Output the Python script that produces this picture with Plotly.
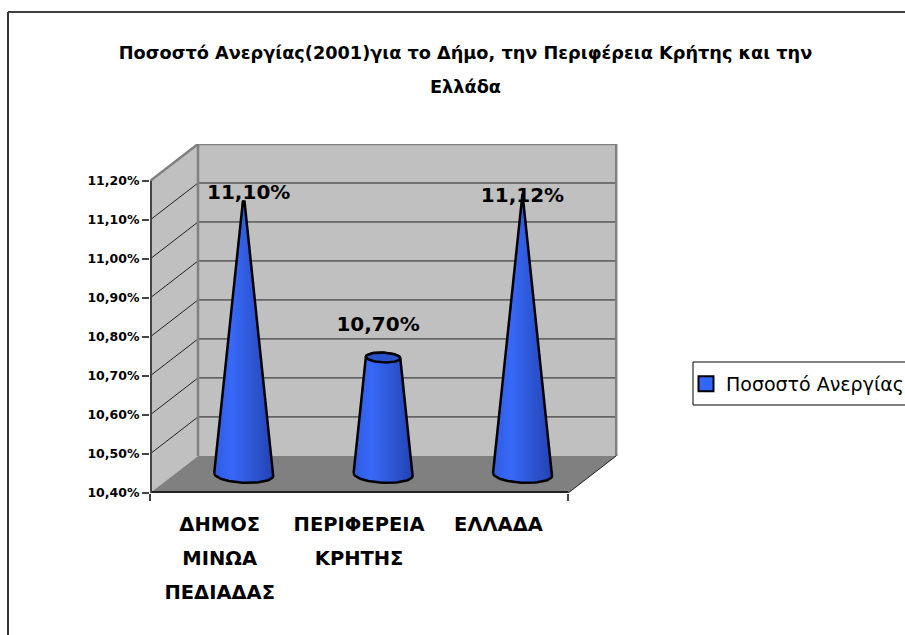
"""Unemployment rate 2001: municipality, Crete region and Greece (3D-look cones)."""
import numpy as np
import plotly.graph_objects as go

FONT = "DejaVu Sans"

CATEGORIES = [["ΔΗΜΟΣ", "ΜΙΝΩΑ", "ΠΕΔΙΑΔΑΣ"], ["ΠΕΡΙΦΕΡΕΙΑ", "ΚΡΗΤΗΣ"], ["ΕΛΛΑΔΑ"]]
VALUES = [11.10, 10.70, 11.12]
VALUE_LABELS = ["11,10%", "10,70%", "11,12%"]
Y_TICKS = [10.4, 10.5, 10.6, 10.7, 10.8, 10.9, 11.0, 11.1, 11.2]
Y_TICK_LABELS = ["10,40%", "10,50%", "10,60%", "10,70%", "10,80%", "10,90%", "11,00%", "11,10%", "11,20%"]
SERIES_NAME = "Ποσοστό Ανεργίας"
TITLE_LINES = ["Ποσοστό Ανεργίας(2001)για το Δήμο, την Περιφέρεια Κρήτης και την", "Ελλάδα"]

# page layout, in pixels
WIDTH, HEIGHT = 905, 635
LEFT, RIGHT, TOP, BOTTOM = 150, 618, 144, 493
PX_PER_CAT = 139.4
PX_PER_UNIT = 388.75

# 3D look, in axis units
DX = 48 / PX_PER_CAT
DY = 37 / PX_PER_UNIT
Y0, Y1 = Y_TICKS[0], Y_TICKS[-1]
N = len(CATEGORIES)
CONE_R = 29.5 / PX_PER_CAT
SQUASH = 0.28 * PX_PER_CAT / PX_PER_UNIT
TILT = -0.045 * PX_PER_CAT / PX_PER_UNIT
LABEL_SHIFT = [(5, 8), (-5, 31), (0, -3)]  # px, from cone top


def px_x(px):
    return (px - LEFT) / (RIGHT - LEFT)


def px_y(py):
    return (BOTTOM - py) / (BOTTOM - TOP)


def span(text, size):
    return f'<span style="font-size:{size}px">{text}</span>'


def ellipse(cx, cy, r, t):
    return cx + r * np.cos(t), cy + SQUASH * r * np.sin(t) + TILT * r * np.cos(t)


def poly(x, y, fill):
    return go.Scatter(x=x, y=y, mode="lines", fill="toself", fillcolor=fill,
                      line=dict(width=0), hoverinfo="skip", showlegend=False)


def lines(x, y, color, width):
    return go.Scatter(x=x, y=y, mode="lines", line=dict(color=color, width=width),
                      hoverinfo="skip", showlegend=False)


def page_line(x0, y0, x1, y1, color, width):
    return dict(type="line", xref="paper", yref="paper", x0=px_x(x0), x1=px_x(x1),
                y0=px_y(y0), y1=px_y(y1), line=dict(color=color, width=width))


fig = go.Figure()

# walls and floor
fig.add_trace(poly([DX, N + DX, N + DX, DX], [Y0 + DY, Y0 + DY, Y1 + DY, Y1 + DY], "#C0C0C0"))
fig.add_trace(poly([0, DX, DX, 0], [Y0, Y0 + DY, Y1 + DY, Y1], "#C0C0C0"))
fig.add_trace(poly([0, N, N + DX, DX], [Y0, Y0, Y0 + DY, Y0 + DY], "#808080"))

# gridlines run along the side wall and the back wall
grid_x, grid_y = [], []
for v in Y_TICKS[1:]:
    grid_x += [0, DX, N + DX, None]
    grid_y += [v, v + DY, v + DY, None]
fig.add_trace(lines(grid_x, grid_y, "#222222", 1))

# wall borders and axis lines
fig.add_trace(lines([0, DX, N + DX, N + DX], [Y1, Y1 + DY, Y1 + DY, Y0 + DY], "#808080", 2.5))
fig.add_trace(lines([DX, DX], [Y0 + DY, Y1 + DY], "#808080", 2.5))
fig.add_trace(lines([N, N + DX], [Y0, Y0 + DY], "#222222", 1))
fig.add_trace(lines([0, N], [Y0, Y0], "#222222", 4))
fig.add_trace(lines([0, 0], [Y0, Y1], "#444444", 4))

# cones: radius shrinks to zero at the largest value
top_value = max(VALUES)
for i, v in enumerate(VALUES):
    cx = i + 0.5 + DX / 2
    base = Y0 + DY / 2
    top = v + DY / 2
    r_top = CONE_R * (top_value - v) / (top_value - Y0)
    bx, by = ellipse(cx, base, CONE_R, np.linspace(np.pi, 2 * np.pi, 40))
    tx, ty = ellipse(cx, top, r_top, np.linspace(0, np.pi, 30))
    ox = np.r_[bx, tx, bx[0]]
    oy = np.r_[by, ty, by[0]]
    fig.add_trace(go.Scatter(
        x=ox, y=oy, mode="lines", fill="toself",
        fillgradient=dict(type="horizontal", colorscale=[
            [0, "#2F5BE0"], [0.3, "#3768F8"], [0.7, "#2C54D0"], [1, "#2342B4"]]),
        line=dict(color="black", width=2.5), hoverinfo="skip", showlegend=False,
    ))
    if r_top > 0.02:
        cap_x, cap_y = ellipse(cx, top, r_top, np.linspace(0, 2 * np.pi, 60))
        fig.add_trace(go.Scatter(x=cap_x, y=cap_y, mode="lines", fill="toself", fillcolor="#2A52CC",
                                 line=dict(color="black", width=2.5), hoverinfo="skip", showlegend=False))

# value labels
fig.add_trace(go.Scatter(
    x=[i + 0.5 + DX / 2 + s[0] / PX_PER_CAT for i, s in enumerate(LABEL_SHIFT)],
    y=[v + DY / 2 + s[1] / PX_PER_UNIT for v, s in zip(VALUES, LABEL_SHIFT)],
    mode="text", text=VALUE_LABELS, textposition="middle center", cliponaxis=False,
    textfont=dict(family=FONT, size=20, color="black", weight="bold"),
    hoverinfo="skip", showlegend=False,
))

# legend entry
fig.add_trace(go.Scatter(
    x=[None], y=[None], mode="markers", name=SERIES_NAME,
    marker=dict(symbol="square", size=15, color="#3366FF", line=dict(color="black", width=2)),
))

# the tall base font sets the line spacing, the spans set the glyph size
tick_text = ["<br>".join(span(line, 19.5) for line in cat) for cat in CATEGORIES]
title_text = "<br>".join(span(line, 17.7) for line in TITLE_LINES)

fig.update_layout(
    width=WIDTH, height=HEIGHT,
    margin=dict(l=LEFT, r=WIDTH - RIGHT, t=TOP, b=HEIGHT - BOTTOM, autoexpand=False),
    paper_bgcolor="white", plot_bgcolor="white",
    font=dict(family=FONT, color="black"),
    title=dict(text=title_text, x=465.5 / WIDTH, xanchor="center", y=1 - 59 / HEIGHT, yanchor="top",
               font=dict(family=FONT, size=26, weight="bold", color="black")),
    xaxis=dict(range=[0, (RIGHT - LEFT) / PX_PER_CAT], tickmode="array",
               tickvals=[i + 0.5 for i in range(N)], ticktext=tick_text, ticks="", ticklabelstandoff=11,
               tickfont=dict(family=FONT, size=26, weight="bold", color="black"),
               showgrid=False, zeroline=False, showline=False,
               minor=dict(ticks="outside", tickvals=[0, N], ticklen=7, tickcolor="#444444", tickwidth=1.5, showgrid=False)),
    yaxis=dict(range=[Y0, Y1 + DY], tickmode="array", tickvals=Y_TICKS, ticktext=Y_TICK_LABELS,
               ticks="outside", ticklen=7, tickcolor="#444444", tickwidth=1.5,
               tickfont=dict(family=FONT, size=12.5, weight="bold", color="black"),
               showgrid=False, zeroline=False, showline=False),
    legend=dict(x=px_x(686), xanchor="left", y=px_y(365), yanchor="top",
                bgcolor="rgba(0,0,0,0)",
                font=dict(family=FONT, size=19, color="black"), itemsizing="trace"),
    shapes=[
        page_line(8, 12, WIDTH, 12, "black", 1.5),
        page_line(8, 12, 8, HEIGHT, "#333333", 2),
        # legend box runs off the page on the right
        dict(type="rect", xref="paper", yref="paper", x0=px_x(693), x1=px_x(WIDTH + 5), y0=px_y(362), y1=px_y(405),
             line=dict(color="black", width=1), fillcolor="white", layer="below"),
    ],
)

fig.write_html("out.html", config=dict(displayModeBar=False), post_script="document.body.style.margin='0';")
